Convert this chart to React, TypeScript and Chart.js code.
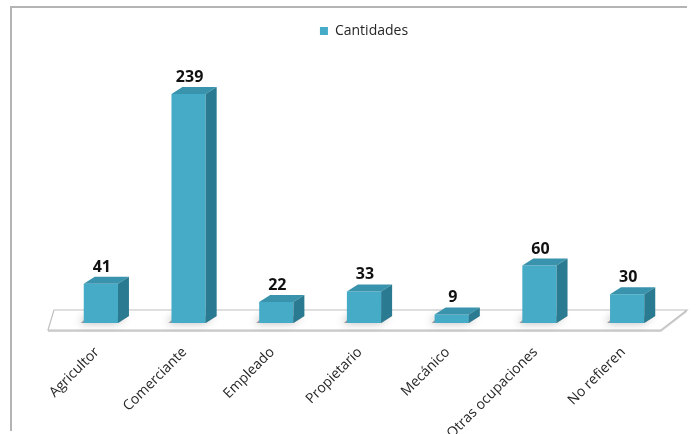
import React, { useEffect, useRef } from "react";
import { Chart, registerables } from "chart.js";

Chart.register(...registerables);

const categories = [
  "Agricultor",
  "Comerciante",
  "Empleado",
  "Propietario",
  "Mecánico",
  "Otras ocupaciones",
  "No refieren",
];
const cantidades = [41, 239, 22, 33, 9, 60, 30];
const seriesName = "Cantidades";

const FRONT = "#46abc7";
const TOP = "#3a93ac";
const SIDE = "#2a7b91";
const DX = 11;
const DY = 7;

const framePlugin = {
  id: "frame",
  beforeDraw(chart: any) {
    const ctx = chart.ctx;
    ctx.save();
    ctx.fillStyle = "#ffffff";
    ctx.fillRect(0, 0, chart.width, chart.height);
    ctx.strokeStyle = "#b4b4b4";
    ctx.lineWidth = 2;
    ctx.beginPath();
    ctx.moveTo(11, 431);
    ctx.lineTo(11, 7);
    ctx.lineTo(687, 7);
    ctx.stroke();
    ctx.restore();
  },
};

const floorPlugin = {
  id: "floor3d",
  beforeDatasetsDraw(chart: any) {
    const ctx = chart.ctx;
    const ca = chart.chartArea;
    const base = chart.scales.y.getPixelForValue(0);
    ctx.save();
    const fl = ca.left - 9, fr = ca.right - 10, bl = ca.left - 3, br = ca.right + 16;
    const fy = base + 7, by = base - 13;
    ctx.fillStyle = "#d4d4d4";
    ctx.beginPath();
    ctx.moveTo(fl, fy);
    ctx.lineTo(fr, fy);
    ctx.lineTo(br, by);
    ctx.lineTo(br, by + 2);
    ctx.lineTo(fr, fy + 2);
    ctx.lineTo(fl, fy + 2);
    ctx.closePath();
    ctx.fill();
    ctx.fillStyle = "#ffffff";
    ctx.strokeStyle = "#c0c0c0";
    ctx.lineWidth = 1.2;
    ctx.beginPath();
    ctx.moveTo(fl, fy);
    ctx.lineTo(fr, fy);
    ctx.lineTo(br, by);
    ctx.lineTo(bl, by);
    ctx.closePath();
    ctx.fill();
    ctx.stroke();
    const meta = chart.getDatasetMeta(0);
    meta.data.forEach((bar: any) => {
      const { x, width } = bar.getProps(["x", "width"], true);
      const l = x - width / 2, r = x + width / 2;
      ctx.save();
      ctx.shadowColor = "rgba(0,0,0,0.5)";
      ctx.shadowBlur = 9;
      ctx.shadowOffsetX = -2;
      ctx.fillStyle = "rgba(100,100,100,0.6)";
      ctx.beginPath();
      ctx.moveTo(l - 3, base);
      ctx.lineTo(r, base);
      ctx.lineTo(r + DX, base - DY);
      ctx.lineTo(l + DX - 6, base - DY);
      ctx.closePath();
      ctx.fill();
      ctx.restore();
    });
    ctx.restore();
  },
};

const bar3dPlugin = {
  id: "bar3d",
  afterDatasetsDraw(chart: any) {
    const ctx = chart.ctx;
    const meta = chart.getDatasetMeta(0);
    ctx.save();
    meta.data.forEach((bar: any, i: number) => {
      const { x, y, base, width } = bar.getProps(["x", "y", "base", "width"], true);
      const l = x - width / 2, r = x + width / 2;
      ctx.fillStyle = TOP;
      ctx.beginPath();
      ctx.moveTo(l, y);
      ctx.lineTo(l + DX, y - DY);
      ctx.lineTo(r + DX, y - DY);
      ctx.lineTo(r, y);
      ctx.closePath();
      ctx.fill();
      ctx.fillStyle = SIDE;
      ctx.beginPath();
      ctx.moveTo(r, y);
      ctx.lineTo(r + DX, y - DY);
      ctx.lineTo(r + DX, base - DY);
      ctx.lineTo(r, base);
      ctx.closePath();
      ctx.fill();
      ctx.fillStyle = "#111111";
      ctx.font = 'bold 16px "Open Sans"';
      ctx.textAlign = "center";
      ctx.textBaseline = "alphabetic";
      ctx.fillText(String(cantidades[i]), x + 1, y - DY - 5);
    });
    ctx.restore();
  },
};

export default function App() {
  const ref = useRef<HTMLCanvasElement | null>(null);
  useEffect(() => {
    if (!ref.current) return;
    const chart = new Chart(ref.current, {
      type: "bar",
      data: {
        labels: categories,
        datasets: [
          {
            label: seriesName,
            data: cantidades,
            backgroundColor: FRONT,
            borderWidth: 0,
            barPercentage: 0.39,
            categoryPercentage: 1,
          },
        ],
      },
      options: {
        animation: false,
        responsive: false,
        devicePixelRatio: 1,
        layout: { padding: { left: 57, right: 25, top: 14, bottom: 0 } },
        plugins: {
          legend: {
            display: true,
            position: "top",
            labels: {
              boxWidth: 8,
              boxHeight: 8,
              padding: 10,
              color: "#262626",
              font: { family: "Open Sans", size: 14 },
            },
          },
          tooltip: { enabled: false },
        },
        scales: {
          x: {
            grid: { display: false },
            border: { display: false },
            ticks: {
              maxRotation: 45,
              minRotation: 45,
              padding: 13,
              labelOffset: -4,
              color: "#262626",
              font: { family: "Open Sans", size: 14 },
            },
            afterFit: (s: any) => {
              s.paddingLeft = 0;
              s.paddingRight = 0;
              s.height = 111;
            },
          } as any,
          y: {
            display: false,
            min: 0,
            max: 287,
          },
        },
      },
      plugins: [framePlugin, floorPlugin, bar3dPlugin],
    });
    return () => chart.destroy();
  }, []);
  return (
    <div style={{ position: "absolute", left: 0, top: 0, width: 696, height: 434, background: "#fff" }}>
      <canvas ref={ref} width={696} height={434} style={{ display: "block" }} />
    </div>
  );
}
